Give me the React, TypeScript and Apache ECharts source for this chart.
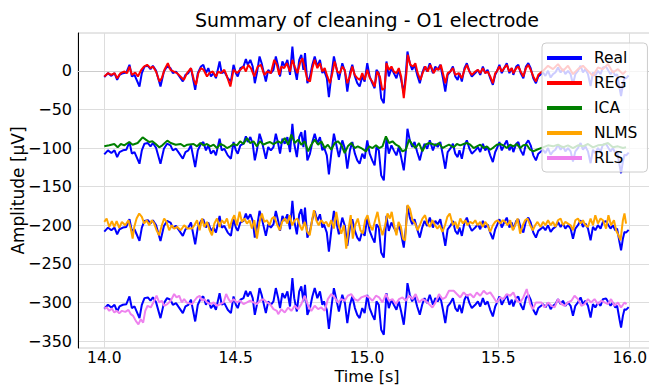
import React, { useEffect, useRef } from "react";
import * as echarts from "echarts";

const FONT = "DejaVu Sans";

const xTicks = [14.0, 14.5, 15.0, 15.5, 16.0];
const yTicks = [0, -50, -100, -150, -200, -250, -300, -350];
const legendNames = ["Real", "REG", "ICA", "NLMS", "RLS"];
const realOffsets = [0, -100, -200, -300];

const real: [number, number][] = [
  [14.000,-8.2],[14.014,-3],[14.027,-6.5],[14.039,-3],[14.049,-11.7],[14.058,-5.2],[14.071,-3],[14.084,-2.2],[14.096,7.8],[14.105,-7.3],[14.115,-5.2],[14.134,-20.3],[14.143,-3],[14.153,5.6],[14.166,6.5],[14.176,2.2],[14.185,6.5],[14.197,0.4],[14.214,-20.3],[14.227,-0.9],[14.239,5.6],[14.252,3.5],[14.261,-3],[14.273,-0.9],[14.286,-7.3],[14.299,-13.8],[14.309,-5.2],[14.320,-3],[14.330,3.5],[14.346,-24.6],[14.356,-3],[14.368,5.6],[14.377,7.8],[14.387,-3],[14.396,3.5],[14.406,-7.3],[14.416,-3],[14.425,-9.5],[14.439,12.1],[14.447,-3],[14.457,-0.9],[14.470,-9.5],[14.482,-13.8],[14.492,7.8],[14.501,-3],[14.508,-7.3],[14.518,3.5],[14.530,5.6],[14.539,15.1],[14.546,7.8],[14.556,14.2],[14.565,5.6],[14.573,-16],[14.581,-3],[14.591,18.6],[14.599,9.9],
  [14.615,-13.8],[14.624,1.3],[14.634,-3],[14.644,1.3],[14.653,18.6],[14.662,5.6],[14.669,-7.3],[14.678,12.1],[14.687,5.6],[14.697,14.2],[14.707,-5.2],[14.716,31.5],[14.723,5.6],[14.733,-11.7],[14.742,14.2],[14.750,20.7],[14.758,1.3],[14.764,22.9],[14.773,-16],[14.783,-7.3],[14.792,7.8],[14.801,18.6],[14.811,5.6],[14.821,14.2],[14.830,-3],[14.836,1.3],[14.847,-9.5],[14.855,-34.1],[14.864,-7.3],[14.874,18.6],[14.885,1.3],[14.893,-11.7],[14.906,9.9],[14.916,-0.9],[14.925,-26.8],[14.935,-3],[14.944,7.8],[14.954,-7.3],[14.963,-16],[14.972,-20.3],[14.982,-7.3],[14.991,-13.8],[15.001,9.9],[15.010,-7.3],[15.020,-16],[15.029,-22.5],[15.036,1.3],[15.045,-3],[15.054,-35.4],[15.064,-41.9],[15.074,12.1],[15.083,-7.3],[15.093,3.5],[15.102,-3],[15.112,-9.5],[15.121,1.3],[15.130,-11.7],[15.140,-28.9],[15.148,-3],[15.154,25],[15.163,9.9],[15.172,1.3],[15.181,7.8],[15.191,-5.2],[15.201,-16],[15.210,-3],[15.219,5.6],[15.229,-0.9],[15.239,9.9],
  [15.251,-3],[15.260,5.6],[15.269,1.3],[15.279,7.8],[15.289,-9.5],[15.298,-26.8],[15.307,-5.2],[15.317,-0.9],[15.327,5.6],[15.336,-7.3],[15.345,-11.7],[15.352,-3],[15.361,-13.8],[15.371,3.5],[15.380,9.9],[15.390,-0.9],[15.399,-7.3],[15.412,-3],[15.422,1.3],[15.431,-5.2],[15.441,5.6],[15.450,-3],[15.459,1.3],[15.469,-9.5],[15.479,-18.1],[15.488,-5.2],[15.494,-0.9],[15.504,7.8],[15.513,-3],[15.522,3.5],[15.532,9.9],[15.542,-3],[15.551,3.5],[15.557,-5.2],[15.568,5.6],[15.576,7.8],[15.585,-3],[15.595,-9.5],[15.605,5.6],[15.614,9.9],[15.623,3.5],[15.633,-9.5],[15.643,-16],[15.652,-7.3],
  [15.670,-2.2],[15.679,-6.5],[15.689,0],[15.699,-8.7],[15.708,-4.3],[15.717,-2.2],[15.727,4.3],[15.737,-2.2],[15.746,2.2],[15.755,-4.3],[15.765,0],[15.775,-4.3],[15.784,-17.4],[15.793,-4.3],[15.803,0],[15.813,6.5],[15.822,-2.2],[15.831,2.2],[15.841,-4.3],[15.851,-19.6],[15.860,-2.2],[15.869,-6.5],[15.879,0],[15.889,-4.3],[15.898,4.3],[15.910,5.2],[15.919,0],[15.927,-4.3],[15.936,0],[15.945,-6.5],[15.952,-4.3],[15.961,-21.7],[15.967,-32.6],[15.974,-17.4],[15.980,-8.7],[15.986,-9.6],[15.996,-6]
];

const reg: [number, number][] = [
  [14.000,-7.3],[14.014,-3],[14.027,-5.2],[14.039,-3],[14.049,-9.5],[14.062,-3],[14.077,-0.9],[14.087,-3],[14.096,5.6],[14.105,-5.2],[14.118,-2.2],[14.128,-7.3],[14.141,1.3],[14.151,5.6],[14.163,7.8],[14.176,3.5],[14.185,5.6],[14.197,-0.9],[14.210,-13.8],[14.219,-9.5],[14.229,1.3],[14.242,9.9],[14.252,1.3],[14.265,-0.9],[14.277,-3],[14.290,-7.3],[14.303,-11.7],[14.315,-3],[14.330,3.5],[14.341,-11.7],[14.349,-18.1],[14.358,-3],[14.368,3.5],[14.378,1.3],[14.391,-7.3],[14.400,-3],[14.413,-0.9],[14.425,-7.3],[14.434,-0.9],[14.444,-3],[14.457,1.3],[14.467,-7.3],[14.480,-20.3],[14.492,1.3],[14.505,-3],[14.518,1.3],[14.530,5.6],[14.539,-0.9],[14.548,7.8],[14.558,3.5],[14.571,-7.3],[14.584,5.6],[14.596,7.8],
  [14.609,-5.2],[14.621,-0.9],[14.634,-3],[14.647,14.2],[14.657,7.8],[14.666,-5.2],[14.674,5.6],[14.685,3.5],[14.695,9.9],[14.707,-0.9],[14.716,14.2],[14.725,5.6],[14.735,-3],[14.745,9.9],[14.754,16.4],[14.763,3.5],[14.773,-11.7],[14.783,-13.8],[14.792,3.5],[14.801,14.2],[14.811,3.5],[14.821,9.9],[14.830,-0.9],[14.839,3.5],[14.849,-7.3],[14.859,-16],[14.868,-3],[14.877,12.1],[14.887,-0.9],[14.897,-3],[14.906,5.6],[14.915,1.3],[14.925,-16],[14.935,-7.3],[14.944,5.6],[14.953,-5.2],[14.963,-9.5],[14.973,-11.7],[14.982,-3],[14.991,-11.7],[15.001,1.3],[15.011,-9.5],[15.020,-13.8],[15.029,-20.3],[15.039,-0.9],[15.049,-7.3],[15.058,-24.6],[15.067,-22.5],[15.074,9.9],[15.083,1.3],[15.093,5.6],[15.102,-0.9],[15.112,-3],[15.121,3.5],[15.130,-7.3],[15.140,-35.4],[15.150,-3],[15.155,20.7],[15.165,7.8],[15.176,5.6],[15.184,9.9],[15.193,-3],[15.203,-11.7],[15.214,-0.9],[15.222,5.6],[15.231,-0.9],[15.241,7.8],
  [15.254,-3],[15.264,3.5],[15.273,1.3],[15.281,7.8],[15.292,-7.3],[15.298,-16],[15.307,-3],[15.317,-0.9],[15.327,3.5],[15.336,-5.2],[15.349,-3],[15.361,-9.5],[15.371,1.3],[15.380,7.8],[15.390,-0.9],[15.399,-5.2],[15.412,-0.9],[15.422,1.3],[15.431,-3],[15.441,3.5],[15.450,-3],[15.459,-0.9],[15.469,-7.3],[15.479,-16],[15.488,-3],[15.494,-0.9],[15.504,5.6],[15.513,-0.9],[15.522,3.5],[15.532,7.8],[15.542,-0.9],[15.551,3.5],[15.557,-3],[15.568,3.5],[15.576,5.6],[15.585,-0.9],[15.595,-7.3],[15.605,3.5],[15.614,7.8],[15.623,1.3],[15.633,-7.3],[15.643,-13.8],[15.652,-5.2],
  [15.670,0],[15.689,6.5],[15.708,2.2],[15.727,8.7],[15.746,0],[15.765,6.5],[15.784,-4.3],[15.803,2.2],[15.822,6.5],[15.841,0],[15.860,-6.5],[15.879,4.3],[15.898,2.2],[15.917,8.7],[15.936,-2.2],[15.955,2.2],[15.974,-4.3],[15.986,0]
];

const ica: [number, number][] = [
  [14.000,-97.8],[14.019,-96.5],[14.038,-94.8],[14.051,-99.1],[14.063,-94.8],[14.076,-96.5],[14.095,-92.2],[14.108,-95.7],[14.127,-93.5],[14.146,-86.1],[14.158,-89.1],[14.171,-92.2],[14.183,-91.3],[14.196,-94.8],[14.209,-99.1],[14.221,-96.5],[14.240,-90.4],[14.253,-93.5],[14.272,-95.7],[14.291,-94.8],[14.304,-97.8],[14.316,-95.7],
  [14.340,-94.8],[14.353,-97.8],[14.366,-93.5],[14.378,-96.5],[14.391,-94.8],[14.404,-97.8],[14.416,-95.7],[14.429,-100],[14.442,-94.8],[14.454,-96.5],[14.467,-100],[14.480,-97.8],[14.492,-94.8],[14.505,-96.5],[14.517,-91.3],[14.530,-94.8],[14.543,-87],[14.555,-93.5],[14.568,-91.3],[14.581,-97.8],[14.593,-91.3],[14.606,-95.7],[14.619,-93.5],[14.631,-92.2],[14.644,-94.8],
  [14.662,-91.3],[14.674,-93.5],[14.687,-87],[14.700,-95.7],[14.712,-82.6],[14.725,-93.5],[14.738,-89.1],[14.750,-95.7],[14.763,-91.3],[14.776,-104.3],[14.788,-95.7],[14.801,-89.1],[14.814,-95.7],[14.826,-91.3],[14.839,-100],[14.851,-95.7],[14.864,-102.2],[14.877,-93.5],[14.889,-91.3],[14.902,-95.7],[14.915,-106.5],[14.927,-97.8],[14.940,-93.5],[14.953,-100],[14.965,-97.8],[14.978,-100],
  [14.996,-104.3],[15.008,-97.8],[15.021,-100],[15.034,-96.5],[15.046,-100],[15.059,-97.8],[15.072,-84.8],[15.084,-93.5],[15.097,-91.3],[15.110,-95.7],[15.122,-97.8],[15.135,-104.3],[15.148,-102.2],[15.160,-89.1],[15.173,-95.7],[15.185,-100],[15.198,-93.5],[15.211,-104.3],[15.223,-95.7],[15.236,-93.5],[15.249,-94.8],[15.261,-96.5],[15.274,-93.5],[15.287,-100],[15.299,-97.8],[15.312,-95.7],
  [15.330,-99.1],[15.342,-94.8],[15.355,-96.5],[15.368,-94.8],[15.380,-93.5],[15.393,-95.7],[15.406,-100],[15.418,-97.8],[15.431,-95.7],[15.444,-100],[15.456,-97.8],[15.469,-102.2],[15.482,-99.1],[15.494,-95.7],[15.507,-94.8],[15.519,-96.5],[15.532,-100],[15.545,-95.7],[15.557,-97.8],[15.570,-94.8],[15.583,-100],[15.595,-96.5],[15.608,-95.7],[15.621,-102.2],[15.633,-104.3],[15.646,-102.2],
  [15.670,-99.1],[15.689,-96.5],[15.708,-97.8],[15.727,-95.7],[15.746,-99.1],[15.765,-96.5],[15.784,-100],[15.803,-96.5],[15.822,-97.8],[15.841,-94.8],[15.860,-99.1],[15.879,-96.5],[15.898,-95.7],[15.917,-93.5],[15.936,-99.1],[15.955,-97.8],[15.974,-100],[15.986,-99.1]
];

const nlms: [number, number][] = [
  [14.000,-195.7],[14.009,-191.3],[14.019,-202.2],[14.029,-194.8],[14.038,-202.2],[14.047,-194.8],[14.057,-203.5],[14.067,-195.7],[14.080,-200],[14.092,-193.5],[14.101,-204.3],[14.108,-217.4],[14.114,-202.2],[14.123,-191.3],[14.133,-184.8],[14.143,-189.1],[14.152,-197.8],[14.161,-193.5],[14.171,-200],[14.181,-193.5],[14.190,-197.8],[14.199,-206.5],[14.209,-213],[14.219,-200],[14.228,-191.3],[14.237,-195.7],[14.247,-206.5],[14.257,-200],[14.266,-204.3],[14.278,-202.2],[14.291,-206.5],[14.304,-200],[14.316,-204.3],
  [14.334,-204.3],[14.343,-200],[14.353,-193.5],[14.363,-206.5],[14.372,-191.3],[14.381,-202.2],[14.391,-195.7],[14.401,-206.5],[14.410,-213],[14.419,-197.8],[14.429,-191.3],[14.439,-202.2],[14.448,-193.5],[14.457,-197.8],[14.467,-191.3],[14.477,-204.3],[14.486,-193.5],[14.495,-187],[14.505,-200],[14.515,-182.6],[14.524,-195.7],[14.533,-191.3],[14.543,-197.8],[14.553,-193.5],[14.562,-204.3],[14.571,-193.5],[14.581,-217.4],[14.591,-195.7],[14.600,-184.8],[14.609,-195.7],[14.619,-193.5],[14.629,-200],[14.638,-191.3],[14.647,-189.1],
  [14.659,-200],[14.668,-206.5],[14.677,-195.7],[14.687,-191.3],[14.697,-197.8],[14.706,-187],[14.715,-200],[14.725,-193.5],[14.735,-191.3],[14.744,-200],[14.753,-206.5],[14.763,-195.7],[14.773,-208.7],[14.782,-213],[14.791,-193.5],[14.798,-180.4],[14.807,-193.5],[14.816,-200],[14.826,-193.5],[14.836,-197.8],[14.845,-195.7],[14.854,-202.2],[14.864,-193.5],[14.874,-204.3],[14.883,-182.6],[14.892,-200],[14.902,-210.9],[14.912,-200],[14.921,-230.4],[14.930,-204.3],[14.938,-187],[14.946,-217.4],[14.955,-200],[14.965,-191.3],[14.975,-206.5],[14.984,-210.9],
  [14.993,-193.5],[15.002,-187],[15.011,-200],[15.021,-206.5],[15.031,-193.5],[15.040,-182.6],[15.049,-200],[15.059,-213],[15.069,-200],[15.078,-184.8],[15.087,-191.3],[15.094,-182.6],[15.103,-200],[15.112,-213],[15.120,-195.7],[15.129,-202.2],[15.137,-217.4],[15.145,-219.6],[15.154,-173.9],[15.163,-178.3],[15.173,-193.5],[15.183,-197.8],[15.192,-206.5],[15.201,-200],[15.211,-191.3],[15.221,-187],[15.230,-197.8],[15.239,-202.2],[15.249,-193.5],[15.259,-200],[15.268,-204.3],[15.277,-200],[15.287,-208.7],[15.297,-200],[15.306,-189.1],[15.315,-184.8],
  [15.327,-200],[15.336,-195.7],[15.345,-204.3],[15.355,-191.3],[15.365,-197.8],[15.374,-193.5],[15.383,-200],[15.393,-195.7],[15.403,-197.8],[15.412,-193.5],[15.421,-200],[15.431,-195.7],[15.441,-202.2],[15.450,-195.7],[15.459,-200],[15.469,-208.7],[15.479,-200],[15.488,-195.7],[15.497,-193.5],[15.507,-197.8],[15.517,-193.5],[15.526,-195.7],[15.535,-200],[15.545,-193.5],[15.555,-206.5],[15.564,-200],[15.573,-191.3],[15.583,-210.9],[15.593,-200],[15.602,-193.5],[15.611,-191.3],[15.621,-200],[15.631,-206.5],[15.640,-200],[15.649,-195.7],
  [15.661,-202.2],[15.670,-195.7],[15.679,-200],[15.689,-193.5],[15.699,-200],[15.708,-195.7],[15.717,-202.2],[15.727,-193.5],[15.737,-191.3],[15.746,-200],[15.755,-195.7],[15.765,-197.8],[15.775,-200],[15.784,-206.5],[15.793,-193.5],[15.803,-191.3],[15.813,-197.8],[15.822,-193.5],[15.831,-200],[15.841,-202.2],[15.851,-191.3],[15.860,-200],[15.869,-187],[15.879,-197.8],[15.889,-191.3],[15.898,-193.5],[15.910,-204.3],[15.919,-187],[15.929,-200],[15.940,-193.5],[15.948,-206.5],[15.957,-213],[15.965,-219.6],[15.974,-193.5],[15.980,-184.8],[15.986,-197.8]
];

const rls: [number, number][] = [
  [14.000,-307.8],[14.009,-306.5],[14.019,-310.9],[14.029,-307.8],[14.038,-313],[14.047,-310.9],[14.057,-313.9],[14.067,-310.9],[14.080,-312.2],[14.092,-309.6],[14.101,-315.2],[14.110,-317.4],[14.120,-323.9],[14.130,-328.3],[14.139,-321.7],[14.148,-326.1],[14.156,-310.9],[14.165,-304.3],[14.177,-306.5],[14.190,-297.8],[14.199,-291.3],[14.209,-300],[14.219,-297.8],[14.228,-304.3],[14.240,-302.2],[14.253,-297.8],[14.266,-289.1],[14.275,-293.5],[14.285,-291.3],[14.295,-300],[14.304,-295.7],[14.313,-300],
  [14.334,-302.2],[14.343,-297.8],[14.353,-293.5],[14.363,-291.3],[14.372,-297.8],[14.381,-295.7],[14.391,-300],[14.404,-302.2],[14.416,-300],[14.429,-304.3],[14.442,-302.2],[14.454,-300],[14.464,-289.1],[14.473,-295.7],[14.482,-300],[14.492,-295.7],[14.505,-300],[14.517,-297.8],[14.530,-302.2],[14.543,-300],[14.555,-297.8],[14.568,-300],[14.581,-302.2],[14.593,-297.8],[14.606,-295.7],[14.619,-300],[14.631,-302.2],[14.644,-308.7],[14.657,-310.9],
  [14.662,-315.2],[14.674,-308.7],[14.687,-313],[14.700,-306.5],[14.712,-310.9],[14.725,-304.3],[14.738,-308.7],[14.750,-302.2],[14.763,-291.3],[14.776,-304.3],[14.788,-310.9],[14.801,-304.3],[14.814,-308.7],[14.826,-306.5],[14.839,-310.9],[14.851,-295.7],[14.864,-289.1],[14.877,-293.5],[14.889,-300],[14.902,-295.7],[14.915,-297.8],[14.927,-291.3],[14.940,-289.1],[14.953,-295.7],[14.965,-297.8],[14.978,-293.5],
  [14.996,-291.3],[15.008,-293.5],[15.021,-297.8],[15.034,-291.3],[15.046,-293.5],[15.059,-300],[15.072,-289.1],[15.084,-297.8],[15.097,-295.7],[15.110,-302.2],[15.122,-295.7],[15.135,-293.5],[15.148,-297.8],[15.160,-291.3],[15.173,-295.7],[15.185,-289.1],[15.198,-300],[15.211,-295.7],[15.223,-297.8],[15.236,-302.2],[15.249,-306.5],[15.261,-300],[15.274,-289.1],[15.287,-295.7],[15.299,-293.5],[15.312,-284.8],
  [15.330,-284.8],[15.342,-289.1],[15.355,-293.5],[15.368,-287],[15.380,-291.3],[15.393,-289.1],[15.406,-293.5],[15.418,-287],[15.431,-291.3],[15.444,-284.8],[15.456,-289.1],[15.469,-287],[15.482,-293.5],[15.494,-300],[15.507,-293.5],[15.519,-295.7],[15.532,-289.1],[15.545,-291.3],[15.557,-287],[15.570,-297.8],[15.583,-300],[15.595,-293.5],[15.608,-282.6],[15.621,-302.2],[15.631,-308.7],[15.643,-300],
  [15.664,-300],[15.676,-306.5],[15.689,-300],[15.702,-304.3],[15.714,-306.5],[15.727,-295.7],[15.740,-302.2],[15.752,-304.3],[15.765,-300],[15.778,-297.8],[15.790,-291.3],[15.803,-295.7],[15.816,-304.3],[15.828,-302.2],[15.841,-295.7],[15.853,-300],[15.866,-295.7],[15.879,-302.2],[15.891,-297.8],[15.904,-300],[15.917,-302.2],[15.929,-295.7],[15.942,-304.3],[15.955,-300],[15.967,-306.5],[15.980,-300],[15.988,-302.2]
];

const COLORS: Record<string, string> = {
  Real: "#0000ff",
  REG: "#ff0000",
  ICA: "#008000",
  NLMS: "#ffa500",
  RLS: "#ee82ee",
};

function lineSeries(name: string, data: [number, number][]) {
  return {
    type: "line",
    name,
    data,
    showSymbol: false,
    symbol: "none",
    lineStyle: { color: COLORS[name], width: 2 },
    itemStyle: { color: COLORS[name] },
    emphasis: { disabled: true },
  };
}

export default function App() {
  const ref = useRef<HTMLDivElement>(null);
  useEffect(() => {
    document.body.style.margin = "0";
    if (!ref.current) return;
    const chart = echarts.init(ref.current, undefined, { renderer: "svg" });
    const cleaned: [string, [number, number][]][] = [
      ["REG", reg],
      ["ICA", ica],
      ["NLMS", nlms],
      ["RLS", rls],
    ];
    const series: any[] = [];
    realOffsets.forEach((off, i) => {
      series.push(lineSeries("Real", real.map(([t, v]) => [t, v + off] as [number, number])));
      series.push(lineSeries(cleaned[i][0], cleaned[i][1]));
    });
    chart.setOption({
      animation: false,
      textStyle: { fontFamily: FONT },
      grid: {
        left: 78,
        top: 33,
        right: -7,
        bottom: 37,
        outerBoundsMode: "none",
        containLabel: false,
        show: true,
        borderColor: "#cccccc",
        borderWidth: 1,
      },
      graphic: [
        {
          type: "text",
          x: 367,
          y: 20,
          style: {
            text: "Summary of cleaning - O1 electrode",
            fontFamily: FONT,
            fontSize: 19,
            fill: "#000",
            textAlign: "center",
            textVerticalAlign: "middle",
          },
        },
      ],
      legend: {
        data: legendNames.map((n) => ({ name: n, icon: "rect" })),
        orient: "vertical",
        left: 542,
        top: 43,
        itemWidth: 35,
        itemHeight: 4,
        itemGap: 9,
        padding: [7, 10, 6, 5],
        backgroundColor: "rgba(255,255,255,0.8)",
        borderColor: "#cccccc",
        borderWidth: 1,
        borderRadius: 4,
        selectedMode: false,
        textStyle: {
          fontFamily: FONT,
          fontSize: 15.5,
          color: "#000",
          lineHeight: 16,
          padding: [0, 0, 0, 7],
        },
      },
      xAxis: {
        type: "value",
        min: 13.9,
        max: 16.1,
        name: "Time [s]",
        nameLocation: "middle",
        nameGap: 20,
        nameMoveOverlap: false,
        nameTextStyle: { fontFamily: FONT, fontSize: 16, color: "#000", lineHeight: 16 },
        axisLine: { show: true, lineStyle: { color: "#cccccc", width: 1 } },
        axisTick: { show: false, customValues: xTicks },
        axisLabel: {
          customValues: xTicks,
          formatter: (v: number) => v.toFixed(1),
          fontFamily: FONT,
          fontSize: 15.5,
          lineHeight: 16,
          color: "#000",
          margin: 2,
        },
        splitLine: { show: true, lineStyle: { color: "#dddddd", width: 1 } },
      },
      yAxis: {
        type: "value",
        min: -359,
        max: 49,
        name: "Amplitude [µV]",
        nameLocation: "middle",
        nameGap: 52,
        nameMoveOverlap: false,
        nameRotate: 90,
        nameTextStyle: { fontFamily: FONT, fontSize: 17, color: "#000" },
        axisLine: { show: true, lineStyle: { color: "#000000", width: 1 } },
        axisTick: { show: false, customValues: yTicks },
        axisLabel: {
          customValues: yTicks,
          formatter: (v: number) => String(v).replace("-", "\u2212"),
          fontFamily: FONT,
          fontSize: 16,
          color: "#000",
          margin: 6,
        },
        splitLine: { show: true, lineStyle: { color: "#dddddd", width: 1 } },
      },
      series,
    });
    return () => chart.dispose();
  }, []);
  return <div ref={ref} style={{ width: 649, height: 385 }} />;
}
